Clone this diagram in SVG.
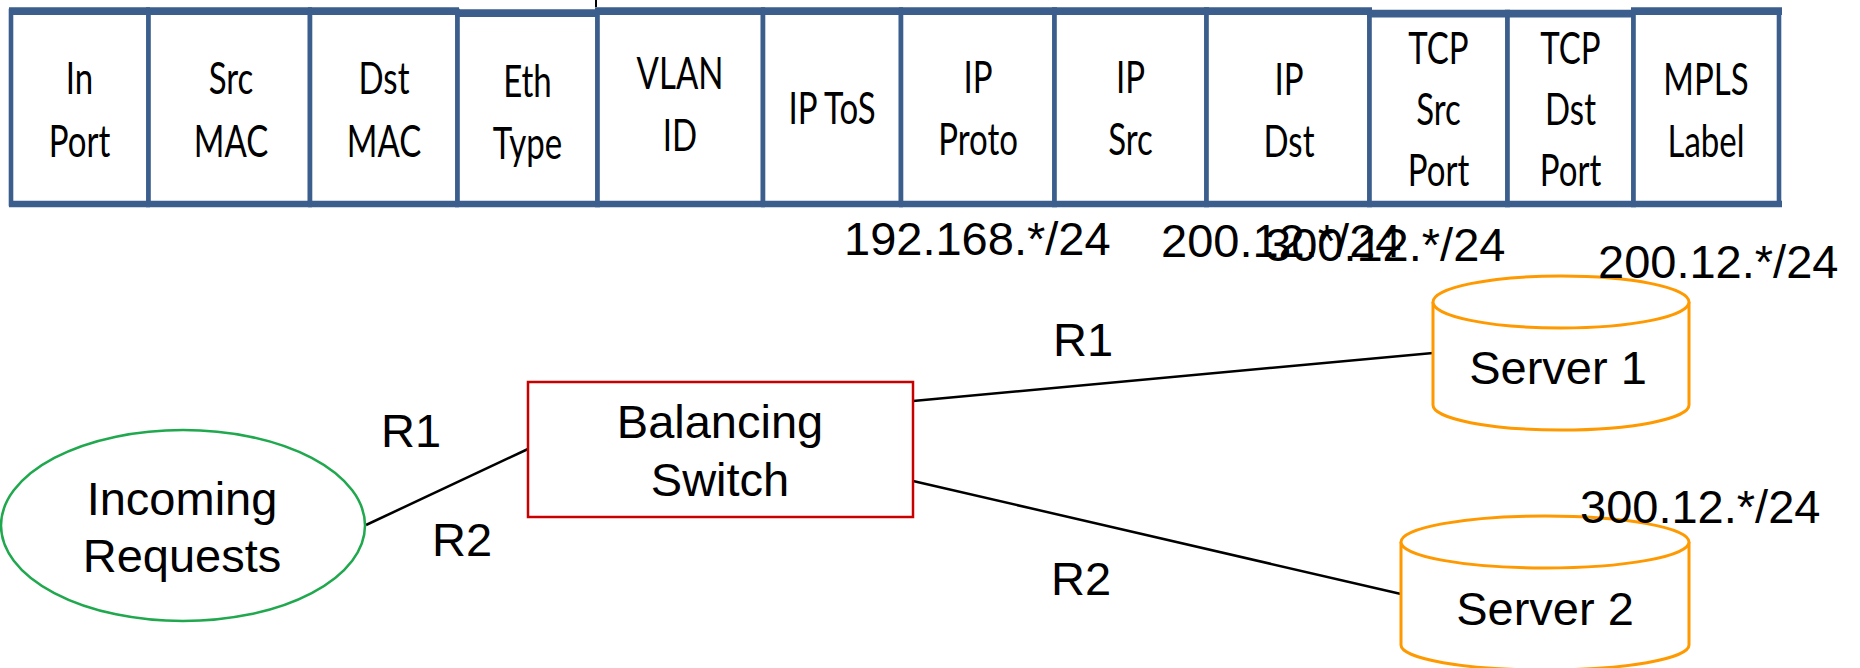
<svg xmlns="http://www.w3.org/2000/svg" width="1860" height="668" viewBox="0 0 1860 668">
<style>
.cell rect{fill:#fff;stroke:#3B5E8C;stroke-width:4.6}
.band{stroke:#3B5E8C;fill:none}
.ct{font-family:Lato,"Open Sans","Liberation Sans",sans-serif;font-size:44px;fill:#000;text-anchor:middle}
.lt{font-family:"Liberation Sans",Arial,sans-serif;font-size:47px;fill:#000}
.mid{text-anchor:middle}
.cyl{fill:#fff;stroke:#FF9900;stroke-width:3}
.conn line{stroke:#000;stroke-width:2.5}
</style>
<rect width="1860" height="668" fill="#fff"/>
<line x1="596" y1="0" x2="596" y2="7" stroke="#000" stroke-width="2"/>
<g id="table">
<g id="cell-inport" class="cell"><rect x="11" y="11" width="137.5" height="193"/><line class="band" x1="9" y1="11.2" x2="150" y2="11.2" stroke-width="7.7"/><line class="band" x1="9" y1="204" x2="150" y2="204" stroke-width="6.3"/><text class="ct" transform="translate(79.5 0) scale(0.75 1)"><tspan x="0" y="94">In</tspan><tspan x="0" y="157">Port</tspan></text></g>
<g id="cell-srcmac" class="cell"><rect x="148.5" y="11" width="161.5" height="193"/><line class="band" x1="146" y1="11.2" x2="312" y2="11.2" stroke-width="7.7"/><line class="band" x1="146" y1="204" x2="312" y2="204" stroke-width="6.3"/><text class="ct" transform="translate(231 0) scale(0.75 1)"><tspan x="0" y="94">Src</tspan><tspan x="0" y="157">MAC</tspan></text></g>
<g id="cell-dstmac" class="cell"><rect x="310" y="11" width="147.5" height="193"/><line class="band" x1="308" y1="11.2" x2="459" y2="11.2" stroke-width="7.7"/><line class="band" x1="308" y1="204" x2="459" y2="204" stroke-width="6.3"/><text class="ct" transform="translate(384 0) scale(0.75 1)"><tspan x="0" y="94">Dst</tspan><tspan x="0" y="157">MAC</tspan></text></g>
<g id="cell-ethtype" class="cell"><rect x="457.5" y="13" width="140" height="191"/><line class="band" x1="455" y1="13.2" x2="600" y2="13.2" stroke-width="7.7"/><line class="band" x1="455" y1="204" x2="600" y2="204" stroke-width="6.3"/><text class="ct" transform="translate(527.5 0) scale(0.75 1)"><tspan x="0" y="97">Eth</tspan><tspan x="0" y="159">Type</tspan></text></g>
<g id="cell-vlanid" class="cell"><rect x="597.5" y="11" width="165.5" height="193"/><line class="band" x1="595" y1="11.2" x2="765" y2="11.2" stroke-width="7.7"/><line class="band" x1="595" y1="204" x2="765" y2="204" stroke-width="6.3"/><text class="ct" transform="translate(680 0) scale(0.75 1)"><tspan x="0" y="89">VLAN</tspan><tspan x="0" y="151">ID</tspan></text></g>
<g id="cell-iptos" class="cell"><rect x="763" y="11" width="138" height="193"/><line class="band" x1="761" y1="11.2" x2="903" y2="11.2" stroke-width="7.7"/><line class="band" x1="761" y1="204" x2="903" y2="204" stroke-width="6.3"/><text class="ct" transform="translate(832 0) scale(0.75 1)"><tspan x="0" y="124">IP ToS</tspan></text></g>
<g id="cell-ipproto" class="cell"><rect x="901" y="11" width="153.5" height="193"/><line class="band" x1="899" y1="11.2" x2="1057" y2="11.2" stroke-width="7.7"/><line class="band" x1="899" y1="204" x2="1057" y2="204" stroke-width="6.3"/><text class="ct" transform="translate(978 0) scale(0.75 1)"><tspan x="0" y="93">IP</tspan><tspan x="0" y="155">Proto</tspan></text></g>
<g id="cell-ipsrc" class="cell"><rect x="1054.5" y="11" width="152" height="193"/><line class="band" x1="1052" y1="11.2" x2="1209" y2="11.2" stroke-width="7.7"/><line class="band" x1="1052" y1="204" x2="1209" y2="204" stroke-width="6.3"/><text class="ct" transform="translate(1130.5 0) scale(0.75 1)"><tspan x="0" y="93">IP</tspan><tspan x="0" y="155">Src</tspan></text></g>
<g id="cell-ipdst" class="cell"><rect x="1206.5" y="11" width="163" height="193"/><line class="band" x1="1204" y1="11.2" x2="1372" y2="11.2" stroke-width="7.7"/><line class="band" x1="1204" y1="204" x2="1372" y2="204" stroke-width="6.3"/><text class="ct" transform="translate(1289 0) scale(0.75 1)"><tspan x="0" y="95">IP</tspan><tspan x="0" y="157">Dst</tspan></text></g>
<g id="cell-tcpsrc" class="cell"><rect x="1369.5" y="13.5" width="138" height="190.5"/><line class="band" x1="1367" y1="13.7" x2="1510" y2="13.7" stroke-width="7.7"/><line class="band" x1="1367" y1="204" x2="1510" y2="204" stroke-width="6.3"/><text class="ct" transform="translate(1438.5 0) scale(0.75 1)"><tspan x="0" y="64">TCP</tspan><tspan x="0" y="125">Src</tspan><tspan x="0" y="186">Port</tspan></text></g>
<g id="cell-tcpdst" class="cell"><rect x="1507.5" y="13.5" width="126" height="190.5"/><line class="band" x1="1505" y1="13.7" x2="1636" y2="13.7" stroke-width="7.7"/><line class="band" x1="1505" y1="204" x2="1636" y2="204" stroke-width="6.3"/><text class="ct" transform="translate(1570.5 0) scale(0.75 1)"><tspan x="0" y="64">TCP</tspan><tspan x="0" y="125">Dst</tspan><tspan x="0" y="186">Port</tspan></text></g>
<g id="cell-mpls" class="cell"><rect x="1633.5" y="11" width="145.5" height="193"/><line class="band" x1="1631" y1="11.2" x2="1782" y2="11.2" stroke-width="7.7"/><line class="band" x1="1631" y1="204" x2="1782" y2="204" stroke-width="6.3"/><text class="ct" transform="translate(1706 0) scale(0.75 1)"><tspan x="0" y="95">MPLS</tspan><tspan x="0" y="157">Label</tspan></text></g>
</g>
<g id="prefix-labels">
<text class="lt" x="844" y="255">192.168.*/24</text>
<text class="lt" x="1161" y="257">200.12.*/24</text>
<text class="lt" x="1265" y="261">300.12.*/24</text>
</g>
<g id="connectors" class="conn">
<line x1="366" y1="525" x2="528" y2="449"/>
<line x1="913" y1="401" x2="1433" y2="353"/>
<line x1="913" y1="481" x2="1401" y2="594"/>
<text class="lt" x="381" y="447">R1</text>
<text class="lt" x="432" y="556">R2</text>
<text class="lt" x="1053" y="356">R1</text>
<text class="lt" x="1051" y="595">R2</text>
</g>
<g id="incoming">
<ellipse cx="183" cy="525.5" rx="182" ry="95.5" fill="#fff" stroke="#1FA84D" stroke-width="2.5"/>
<text class="lt mid" x="182" y="515">Incoming</text>
<text class="lt mid" x="182" y="572">Requests</text>
</g>
<g id="switch">
<rect x="528" y="382" width="385" height="135" fill="#fff" stroke="#C80000" stroke-width="2.5"/>
<text class="lt mid" x="720" y="438">Balancing</text>
<text class="lt mid" x="720" y="496">Switch</text>
</g>
<g id="server1">
<path class="cyl" d="M1433 302 V405 A128 25 0 0 0 1689 405 V302"/>
<ellipse class="cyl" cx="1561" cy="302" rx="128" ry="26"/>
<text class="lt mid" x="1558" y="384">Server 1</text>
<text class="lt" x="1598" y="278">200.12.*/24</text>
</g>
<g id="server2">
<path class="cyl" d="M1401 542 V645 A144 25 0 0 0 1689 645 V542"/>
<ellipse class="cyl" cx="1545" cy="542" rx="144" ry="26"/>
<text class="lt mid" x="1545" y="625">Server 2</text>
<text class="lt" x="1580" y="523">300.12.*/24</text>
</g>
</svg>
